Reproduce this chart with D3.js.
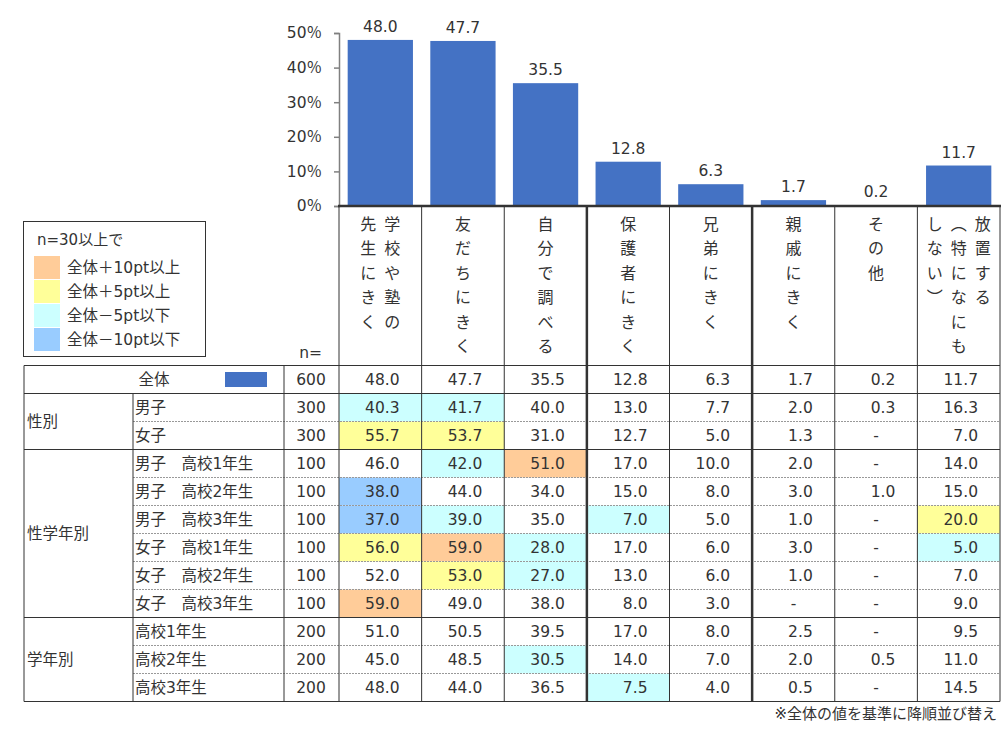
<!DOCTYPE html>
<html>
<head>
<meta charset="utf-8">
<script src="https://cdn.jsdelivr.net/npm/d3@7"></script>
<style>
  body { margin: 0; background: #fff; }
  text { font-family: "DejaVu Sans", "Noto Sans CJK JP", sans-serif; fill: #333; }
</style>
</head>
<body>
<svg id="chart" width="1007" height="730"></svg>
<script>
// ---- data ----
const categories = [
  "学校や塾の先生にきく", "友だちにきく", "自分で調べる", "保護者にきく",
  "兄弟にきく", "親戚にきく", "その他", "放置する（特になにもしない）",
];
// vertical header lines, right column first
const headerLines = [
  ["学校や塾の", "先生にきく"],
  ["友だちにきく"],
  ["自分で調べる"],
  ["保護者にきく"],
  ["兄弟にきく"],
  ["親戚にきく"],
  ["その他"],
  ["放置する", "︵特になにも", "しない︶"],
];
const totalN = 600;
const totalValues = [48.0, 47.7, 35.5, 12.8, 6.3, 1.7, 0.2, 11.7];

const groupNames = ["性別", "性学年別", "学年別"];
const groupSizes = [2, 6, 3];
const rowLabels = [
  "男子", "女子",
  "男子　高校1年生", "男子　高校2年生", "男子　高校3年生",
  "女子　高校1年生", "女子　高校2年生", "女子　高校3年生",
  "高校1年生", "高校2年生", "高校3年生",
];
const rowN = [300, 300, 100, 100, 100, 100, 100, 100, 200, 200, 200];
const rowValues = [
  [40.3, 41.7, 40.0, 13.0, 7.7, 2.0, 0.3, 16.3],
  [55.7, 53.7, 31.0, 12.7, 5.0, 1.3, null, 7.0],
  [46.0, 42.0, 51.0, 17.0, 10.0, 2.0, null, 14.0],
  [38.0, 44.0, 34.0, 15.0, 8.0, 3.0, 1.0, 15.0],
  [37.0, 39.0, 35.0, 7.0, 5.0, 1.0, null, 20.0],
  [56.0, 59.0, 28.0, 17.0, 6.0, 3.0, null, 5.0],
  [52.0, 53.0, 27.0, 13.0, 6.0, 1.0, null, 7.0],
  [59.0, 49.0, 38.0, 8.0, 3.0, null, null, 9.0],
  [51.0, 50.5, 39.5, 17.0, 8.0, 2.5, null, 9.5],
  [45.0, 48.5, 30.5, 14.0, 7.0, 2.0, 0.5, 11.0],
  [48.0, 44.0, 36.5, 7.5, 4.0, 0.5, null, 14.5],
];
const yTicks = [0, 10, 20, 30, 40, 50];
const legendTitle = "n=30以上で";
const legendLabels = ["全体＋10pt以上", "全体＋5pt以上", "全体－5pt以下", "全体－10pt以下"];
const footnote = "※全体の値を基準に降順並び替え";

// ---- styles ----
const barColor = "#4472C4";
const legendColors = ["#FFCC99", "#FFFF99", "#CCFFFF", "#99CCFF"];
const lineColor = "#333";

const svg = d3.select("#chart");

const left = 339, right = 1000;
const col = d3.scaleBand().domain(categories).range([left, right]);
const x = d3.scaleBand().domain(categories).range([left, right])
  .paddingInner(0.21).paddingOuter(0.105);
const y = d3.scaleLinear().domain([0, 50]).range([206, 33]);

const rowKeys = ["全体"].concat(rowLabels);
const row = d3.scaleBand().domain(rowKeys).range([365.5, 701.5]);

function cellColor(v, i, n) {
  if (v == null || n < 30) return null;
  const d = Math.round((v - totalValues[i]) * 10) / 10;
  if (d >= 10) return legendColors[0];
  if (d >= 5) return legendColors[1];
  if (d <= -10) return legendColors[3];
  if (d <= -5) return legendColors[2];
  return null;
}

// ---- bars ----
svg.append("g")
  .selectAll("rect")
  .data(totalValues)
  .join("rect")
  .attr("x", (d, i) => x(categories[i]))
  .attr("width", x.bandwidth())
  .attr("y", (d) => y(d))
  .attr("height", (d) => y(0) - y(d))
  .attr("fill", barColor);

svg.append("g")
  .selectAll("text")
  .data(totalValues)
  .join("text")
  .attr("x", (d, i) => x(categories[i]) + x.bandwidth() / 2)
  .attr("y", (d) => y(d) - 8)
  .attr("text-anchor", "middle")
  .attr("font-size", 15.5)
  .text((d) => d.toFixed(1));

// ---- y axis ----
const yAxis = svg.append("g")
  .attr("transform", `translate(${left},0)`)
  .call(d3.axisLeft(y).tickValues(yTicks).tickSize(5).tickPadding(12)
    .tickFormat((d) => d + "％"));
yAxis.select(".domain").attr("stroke", "#808080").attr("stroke-width", 1.5);
yAxis.selectAll(".tick line").attr("stroke", "#808080").attr("stroke-width", 1.5);
yAxis.selectAll(".tick text")
  .attr("font-size", 15.5)
  .attr("font-family", "DejaVu Sans, Noto Sans CJK JP")
  .attr("fill", "#333");

// ---- cell fills ----
const cells = svg.append("g");
rowValues.forEach((vals, r) => {
  vals.forEach((v, i) => {
    const c = cellColor(v, i, rowN[r]);
    if (!c) return;
    cells.append("rect")
      .attr("x", col(categories[i]))
      .attr("y", row(rowLabels[r]))
      .attr("width", col.bandwidth())
      .attr("height", row.bandwidth())
      .attr("fill", c);
  });
});

// ---- header vertical labels ----
const header = svg.append("g").attr("font-size", 16);
headerLines.forEach((lines, i) => {
  const cx = col(categories[i]) + col.bandwidth() / 2;
  lines.forEach((line, j) => {
    const lx = cx + ((lines.length - 1) / 2) * 24 - j * 24;
    Array.from(line).forEach((ch, k) => {
      header.append("text")
        .attr("x", lx)
        .attr("y", 224 + k * 24.5)
        .attr("text-anchor", "middle")
        .attr("dominant-baseline", "central")
        .text(ch);
    });
  });
});

svg.append("text")
  .attr("x", 322).attr("y", 358)
  .attr("text-anchor", "end")
  .attr("font-size", 15.5)
  .text("n=");

// ---- legend ----
const legend = svg.append("g");
legend.append("rect")
  .attr("x", 23.5).attr("y", 221.5).attr("width", 182).attr("height", 135)
  .attr("fill", "none").attr("stroke", lineColor);
legend.append("text")
  .attr("x", 37).attr("y", 245).attr("font-size", 15)
  .text(legendTitle);
legendLabels.forEach((l, i) => {
  legend.append("rect")
    .attr("x", 34).attr("y", 256 + i * 24).attr("width", 26).attr("height", 23)
    .attr("fill", legendColors[i]);
  legend.append("text")
    .attr("x", 67).attr("y", 267.5 + i * 24)
    .attr("dominant-baseline", "central")
    .attr("font-size", 15.5)
    .text(l);
});

// ---- table text ----
const table = svg.append("g").attr("font-size", 15.5);
const totalY = row("全体") + row.bandwidth() / 2;
table.append("text").attr("x", 154).attr("y", totalY)
  .attr("text-anchor", "middle").attr("dominant-baseline", "central").text("全体");
table.append("rect").attr("x", 225).attr("y", totalY - 7.5)
  .attr("width", 42).attr("height", 15).attr("fill", barColor);
table.append("text").attr("x", 311).attr("y", totalY)
  .attr("text-anchor", "middle").attr("dominant-baseline", "central").text(totalN);

function valueText(v, i, cy) {
  const isNull = v == null;
  table.append("text")
    .attr("x", isNull ? col(categories[i]) + col.bandwidth() / 2
                      : col(categories[i]) + col.bandwidth() - 22)
    .attr("y", cy)
    .attr("text-anchor", isNull ? "middle" : "end")
    .attr("dominant-baseline", "central")
    .text(isNull ? "-" : v.toFixed(1));
}
totalValues.forEach((v, i) => valueText(v, i, totalY));

rowLabels.forEach((l, r) => {
  const cy = row(l) + row.bandwidth() / 2;
  table.append("text").attr("x", 135).attr("y", cy)
    .attr("dominant-baseline", "central").text(l);
  table.append("text").attr("x", 311).attr("y", cy)
    .attr("text-anchor", "middle").attr("dominant-baseline", "central").text(rowN[r]);
  rowValues[r].forEach((v, i) => valueText(v, i, cy));
});

let start = 0;
groupNames.forEach((g, gi) => {
  const top = row(rowLabels[start]);
  const bottom = row(rowLabels[start + groupSizes[gi] - 1]) + row.bandwidth();
  table.append("text").attr("x", 27).attr("y", (top + bottom) / 2)
    .attr("dominant-baseline", "central").text(g);
  start += groupSizes[gi];
});

// ---- grid lines ----
const grid = svg.append("g").attr("stroke", lineColor).attr("fill", "none");
const tTop = row.range()[0], tBottom = row.range()[1];
// horizontal solid lines
const solidY = [tTop, row(rowLabels[0])];
start = 0;
groupSizes.forEach((s) => { start += s; solidY.push(start < rowLabels.length ? row(rowLabels[start]) : tBottom); });
solidY.forEach((yy) => {
  grid.append("line").attr("x1", 24).attr("x2", right).attr("y1", yy).attr("y2", yy);
});
// dotted lines inside groups
start = 0;
groupSizes.forEach((s) => {
  for (let k = 1; k < s; k++) {
    const yy = row(rowLabels[start + k]);
    grid.append("line").attr("x1", 133).attr("x2", right).attr("y1", yy).attr("y2", yy)
      .attr("stroke", "#999").attr("stroke-dasharray", "2,1");
  }
  start += s;
});
// vertical lines
grid.append("line").attr("x1", 24).attr("x2", 24).attr("y1", tTop).attr("y2", tBottom);
grid.append("line").attr("x1", 133).attr("x2", 133).attr("y1", row(rowLabels[0])).attr("y2", tBottom);
grid.append("line").attr("x1", 284).attr("x2", 284).attr("y1", tTop).attr("y2", tBottom);
categories.forEach((c, i) => {
  const xx = col(c);
  grid.append("line").attr("x1", xx).attr("x2", xx).attr("y1", y(0)).attr("y2", tBottom)
    .attr("stroke-width", i === 3 || i === 5 ? 2.5 : 1);
});
grid.append("line").attr("x1", right).attr("x2", right).attr("y1", y(0)).attr("y2", tBottom);

// x baseline
svg.append("line").attr("x1", left - 1).attr("x2", right + 1)
  .attr("y1", y(0)).attr("y2", y(0))
  .attr("stroke", "#333").attr("stroke-width", 2.5);

// ---- footnote ----
svg.append("text").attr("x", 997).attr("y", 719)
  .attr("text-anchor", "end").attr("font-size", 15)
  .text(footnote);
</script>
</body>
</html>
